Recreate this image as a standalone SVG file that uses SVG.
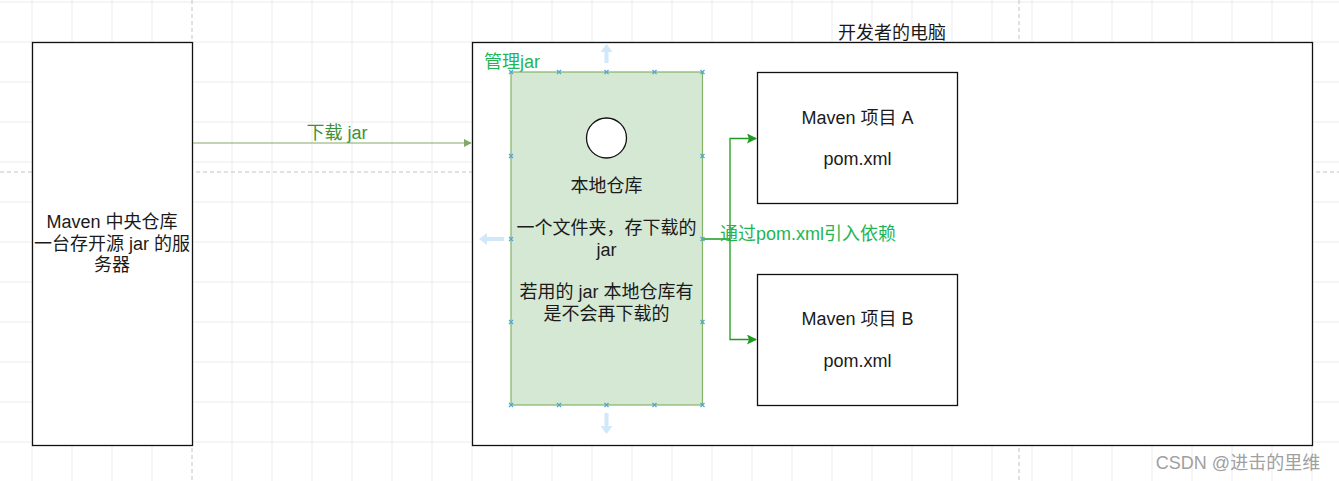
<svg xmlns="http://www.w3.org/2000/svg" width="1339" height="481" viewBox="0 0 1339 481">
<defs>
<style>
.grid line{stroke:#ebebeb;stroke-width:1}
.page{stroke:#c4c4c4;stroke-width:1;stroke-dasharray:4 3}
.box{fill:#fff;stroke:#111;stroke-width:1.3}
.t{font-family:"Liberation Sans","Noto Sans CJK SC",sans-serif;font-size:18px;fill:#1a1a1a;text-anchor:middle}
.tl{font-family:"Liberation Sans","Noto Sans CJK SC",sans-serif;font-size:18px}
.h{stroke:#4aa8d8;stroke-width:1.2}
.ha{fill:#a9d6f2;opacity:0.55}
</style>
<marker id="arrOlive" viewBox="0 0 10 10" refX="9" refY="5" markerWidth="8" markerHeight="8" markerUnits="userSpaceOnUse" orient="auto"><path d="M0,0 L10,5 L0,10 Z" fill="#82a86a"/></marker>
<marker id="arrGreen" viewBox="0 0 10 10" refX="9" refY="5" markerWidth="10" markerHeight="10" markerUnits="userSpaceOnUse" orient="auto"><path d="M0,0 L10,5 L0,10 L2,5 Z" fill="#1e9a1e"/></marker>
</defs>
<rect width="1339" height="481" fill="#ffffff"/>
<g class="grid">
<line x1="32" y1="0" x2="32" y2="481"/><line x1="72" y1="0" x2="72" y2="481"/><line x1="112" y1="0" x2="112" y2="481"/><line x1="152" y1="0" x2="152" y2="481"/><line x1="232" y1="0" x2="232" y2="481"/><line x1="272" y1="0" x2="272" y2="481"/><line x1="312" y1="0" x2="312" y2="481"/><line x1="352" y1="0" x2="352" y2="481"/><line x1="392" y1="0" x2="392" y2="481"/><line x1="432" y1="0" x2="432" y2="481"/><line x1="472" y1="0" x2="472" y2="481"/><line x1="512" y1="0" x2="512" y2="481"/><line x1="552" y1="0" x2="552" y2="481"/><line x1="592" y1="0" x2="592" y2="481"/><line x1="632" y1="0" x2="632" y2="481"/><line x1="672" y1="0" x2="672" y2="481"/><line x1="712" y1="0" x2="712" y2="481"/><line x1="752" y1="0" x2="752" y2="481"/><line x1="792" y1="0" x2="792" y2="481"/><line x1="832" y1="0" x2="832" y2="481"/><line x1="872" y1="0" x2="872" y2="481"/><line x1="912" y1="0" x2="912" y2="481"/><line x1="952" y1="0" x2="952" y2="481"/><line x1="992" y1="0" x2="992" y2="481"/><line x1="1032" y1="0" x2="1032" y2="481"/><line x1="1072" y1="0" x2="1072" y2="481"/><line x1="1112" y1="0" x2="1112" y2="481"/><line x1="1152" y1="0" x2="1152" y2="481"/><line x1="1192" y1="0" x2="1192" y2="481"/><line x1="1232" y1="0" x2="1232" y2="481"/><line x1="1272" y1="0" x2="1272" y2="481"/><line x1="1312" y1="0" x2="1312" y2="481"/>
<line x1="0" y1="2" x2="1339" y2="2"/><line x1="0" y1="42" x2="1339" y2="42"/><line x1="0" y1="82" x2="1339" y2="82"/><line x1="0" y1="122" x2="1339" y2="122"/><line x1="0" y1="162" x2="1339" y2="162"/><line x1="0" y1="202" x2="1339" y2="202"/><line x1="0" y1="242" x2="1339" y2="242"/><line x1="0" y1="282" x2="1339" y2="282"/><line x1="0" y1="322" x2="1339" y2="322"/><line x1="0" y1="362" x2="1339" y2="362"/><line x1="0" y1="402" x2="1339" y2="402"/><line x1="0" y1="442" x2="1339" y2="442"/>
</g>
<line class="page" x1="192" y1="0" x2="192" y2="481"/>
<line class="page" x1="1019" y1="0" x2="1019" y2="481"/>
<line class="page" x1="0" y1="172" x2="1339" y2="172"/>

<g id="central-repo">
<rect class="box" x="32.5" y="42.5" width="160" height="403"/>
<text class="t" x="112" y="228">Maven 中央仓库</text>
<text class="t" x="112" y="249.5">一台存开源 jar 的服</text>
<text class="t" x="112" y="271">务器</text>
</g>

<g id="dev-computer">
<rect class="box" x="472.5" y="42.5" width="840" height="403"/>
<text class="t" x="892" y="39">开发者的电脑</text>
<text class="tl" x="484" y="68" fill="#1fb553" font-size="18.5">管理jar</text>
</g>

<g id="local-repo">
<rect x="511" y="72" width="191.5" height="333" fill="#d5e8d4" stroke="#82b366" stroke-width="1.2"/>
<circle cx="606.5" cy="138" r="20" fill="#fff" stroke="#111" stroke-width="1.3"/>
<text class="t" x="606.5" y="191.5">本地仓库</text>
<text class="t" x="606.5" y="234">一个文件夹，存下载的</text>
<text class="t" x="606.5" y="255.5">jar</text>
<text class="t" x="606.5" y="298">若用的 jar 本地仓库有</text>
<text class="t" x="606.5" y="319.5">是不会再下载的</text>
</g>

<g id="project-a">
<rect class="box" x="757.5" y="72.5" width="200" height="131"/>
<text class="t" x="857.5" y="123.5">Maven 项目 A</text>
<text class="t" x="857.5" y="165">pom.xml</text>
</g>

<g id="project-b">
<rect class="box" x="757.5" y="274.5" width="200" height="131"/>
<text class="t" x="857.5" y="324.5">Maven 项目 B</text>
<text class="t" x="857.5" y="367">pom.xml</text>
</g>

<g id="connectors">
<line x1="193" y1="143" x2="471" y2="143" stroke="#82a86a" stroke-width="1.2" marker-end="url(#arrOlive)"/>
<text class="tl" x="337" y="139" text-anchor="middle" fill="#3a923a">下载 jar</text>
<path d="M703,239 H730 V138.5 H756" fill="none" stroke="#1e9a1e" stroke-width="1.3" marker-end="url(#arrGreen)"/>
<path d="M730,239 V339.5 H756" fill="none" stroke="#1e9a1e" stroke-width="1.3" marker-end="url(#arrGreen)"/>
<text class="tl" x="720" y="239.5" fill="#1fb553" font-size="18.7">通过pom.xml引入依赖</text>
</g>

<g id="selection-handles">
<path class="h" d="M509,70 l4,4 m0,-4 l-4,4 M557,70 l4,4 m0,-4 l-4,4 M604.5,70 l4,4 m0,-4 l-4,4 M652.5,70 l4,4 m0,-4 l-4,4 M700.5,70 l4,4 m0,-4 l-4,4 M509,403 l4,4 m0,-4 l-4,4 M557,403 l4,4 m0,-4 l-4,4 M604.5,403 l4,4 m0,-4 l-4,4 M652.5,403 l4,4 m0,-4 l-4,4 M700.5,403 l4,4 m0,-4 l-4,4 M509,154 l4,4 m0,-4 l-4,4 M509,237 l4,4 m0,-4 l-4,4 M509,320 l4,4 m0,-4 l-4,4 M700.5,154 l4,4 m0,-4 l-4,4 M700.5,237 l4,4 m0,-4 l-4,4 M700.5,320 l4,4 m0,-4 l-4,4"/>
<path class="ha" d="M606.5,44 l-6,8 h4 v11 h4 v-11 h4 Z"/>
<path class="ha" d="M606.5,434 l-6,-8 h4 v-13 h4 v13 h4 Z"/>
<path class="ha" d="M479,239 l8,-6 v4 h17 v4 h-17 v4 Z"/>
</g>

<text x="1238" y="469" font-family="Liberation Sans, Noto Sans CJK SC, sans-serif" font-size="18" fill="#a0a0a0" text-anchor="middle">CSDN @进击的里维</text>
</svg>
